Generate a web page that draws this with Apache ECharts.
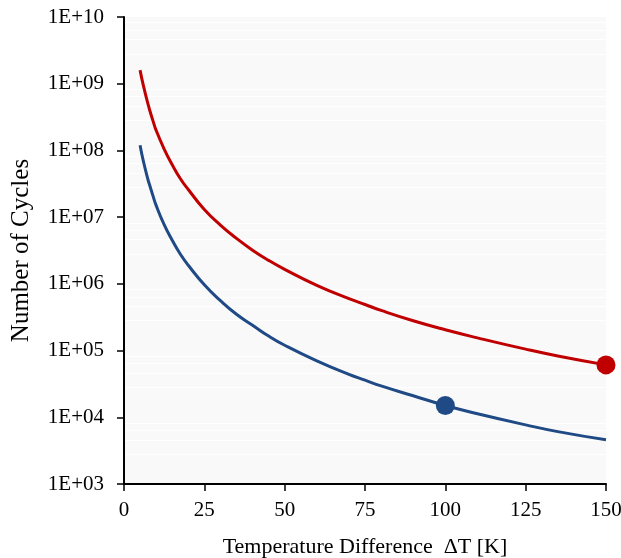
<!DOCTYPE html>
<html>
<head>
<meta charset="utf-8">
<script src="https://cdn.jsdelivr.net/npm/echarts@6/dist/echarts.min.js"></script>
<style>
  html, body { margin: 0; padding: 0; background: #fff; }
</style>
</head>
<body>
<div id="chart" style="width: 621px;height: 558px;"></div>
<script>
// temperature difference [K]
var deltaT = [5, 6, 7.5, 8, 9, 10, 12.5, 15, 17.5, 20, 25, 30, 35, 40, 45, 50, 60, 70, 75, 80, 90, 100, 110, 125, 135, 150]
// number of cycles
var redCycles = [1.6e9, 9.5e8, 4.9e8, 4.0e8, 2.8e8, 2.0e8, 1.05e8, 6.1e7, 3.8e7, 2.6e7, 1.3e7, 7.6e6, 4.8e6, 3.2e6, 2.25e6, 1.65e6, 9.5e5, 6.0e5, 4.9e5, 4.0e5, 2.8e5, 2.05e5, 1.55e5, 1.05e5, 8.3e4, 6.1e4]
var blueCycles = [1.2e8, 7.0e7, 3.6e7, 3.0e7, 2.1e7, 1.5e7, 7.7e6, 4.5e6, 2.8e6, 1.9e6, 9.7e5, 5.6e5, 3.5e5, 2.4e5, 1.65e5, 1.2e5, 7.0e4, 4.4e4, 3.6e4, 2.95e4, 2.1e4, 1.5e4, 1.13e4, 7.7e3, 6.1e3, 4.6e3]
var redPoint = [150, 6.1e4]
var bluePoint = [100, 1.5e4]

function pairs(xs, ys) {
  return xs.map(function(x, i) {
    return [x, ys[i]]
  })
}

var font = 'Liberation Serif, Times New Roman, serif'
var chart = echarts.init(document.getElementById('chart'))
chart.setOption({
  animation: false,
  grid: {
    left: 124,
    right: 15,
    top: 17,
    bottom: 74,
    outerBoundsMode: 'none',
    containLabel: false,
    show: true,
    backgroundColor: '#f9f9f9',
    borderWidth: 0
  },
  xAxis: {
    type: 'value',
    min: 0,
    max: 150,
    interval: 25,
    name: 'Temperature Difference  \u0394T [K]',
    nameLocation: 'middle',
    nameGap: 52,
    nameTextStyle: { fontFamily: font, fontSize: 22, color: '#000' },
    axisLine: { show: true, lineStyle: { color: '#000', width: 2 }},
    axisTick: { show: true, length: 7, lineStyle: { color: '#000', width: 1.5 }},
    axisLabel: { fontFamily: font, fontSize: 21, color: '#000', margin: 16 },
    splitLine: { show: false }
  },
  yAxis: {
    type: 'log',
    logBase: 10,
    min: 1e3,
    max: 1e10,
    name: 'Number of Cycles',
    nameLocation: 'middle',
    nameGap: 90,
    nameTextStyle: { fontFamily: font, fontSize: 25, color: '#000' },
    axisLine: { show: true, lineStyle: { color: '#000', width: 2 }},
    axisTick: { show: true, length: 7, lineStyle: { color: '#000', width: 1.5 }},
    axisLabel: {
      fontFamily: font,
      fontSize: 21,
      color: '#000',
      margin: 20,
      formatter: function(v) {
        var e = Math.round(Math.log10(v))
        return '1E+' + (e < 10 ? '0' + e : e)
      }
    },
    splitLine: { show: false },
    minorTick: { show: false, splitNumber: 5 },
    minorSplitLine: { show: true, lineStyle: { color: '#ffffff', width: 1 }}
  },
  series: [
    {
      type: 'line',
      name: 'red',
      data: pairs(deltaT, redCycles),
      smooth: true,
      showSymbol: false,
      lineStyle: { color: '#C00000', width: 3 },
      z: 3
    },
    {
      type: 'line',
      name: 'blue',
      data: pairs(deltaT, blueCycles),
      smooth: true,
      showSymbol: false,
      lineStyle: { color: '#1F4A85', width: 3 },
      z: 3
    },
    {
      type: 'scatter',
      data: [redPoint],
      symbolSize: 19,
      itemStyle: { color: '#C00000', opacity: 1 },
      z: 4
    },
    {
      type: 'scatter',
      data: [bluePoint],
      symbolSize: 19,
      itemStyle: { color: '#1F4A85', opacity: 1 },
      z: 4
    }
  ]
})
</script>
</body>
</html>
